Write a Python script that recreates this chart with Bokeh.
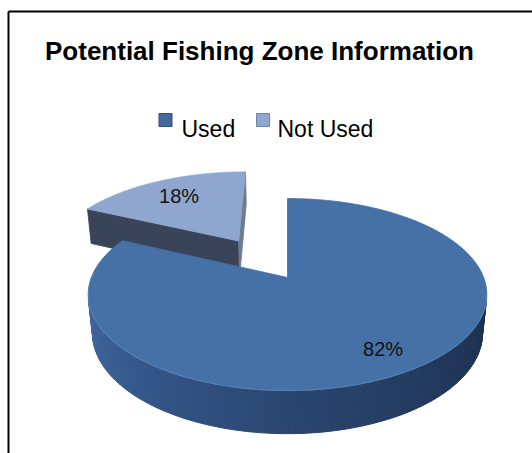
import numpy as np
from bokeh.plotting import figure
from bokeh.models import Range1d
from bokeh.core.properties import value
from bokeh.embed import file_html
from bokeh.resources import INLINE

# ---------------- data ----------------
title_text = "Potential Fishing Zone Information"
categories = ["Used", "Not Used"]
values = [82, 18]
explode = [0.0, 0.5]
label_radius = [0.8, 0.72]

# ---------------- styles ----------------
top_colors = ["#4571a6", "#8fa7cf"]
legend_colors = ["#44699e", "#90a8d0"]
legend_edges = ["#2d4d7c", "#6f87ae"]
FONT = "Liberation Sans"

W, Hpx = 532, 453

# perspective projection of a flat 3D disk (radius 1, thickness TH)
CX, CY = 287.0, 277.0
F = 975.0
DIST = 4.97
S = 0.474
C = float(np.sqrt(1 - S * S))
TH = 0.225
CAM = np.array([0.0, DIST * S, -DIST * C])


def proj(x, y, z):
    x = np.asarray(x, float); y = np.asarray(y, float); z = np.asarray(z, float)
    yc = C * y + S * z
    zc = -S * y + C * z + DIST
    return CX + F * x / zc, CY - F * yc / zc


def lerp_color(stops, t):
    t = min(max(t, 0.0), 1.0)
    n = len(stops) - 1
    k = min(int(t * n), n - 1)
    u = t * n - k
    a = stops[k]; b = stops[k + 1]
    ca = [int(a[i:i + 2], 16) for i in (1, 3, 5)]
    cb = [int(b[i:i + 2], 16) for i in (1, 3, 5)]
    cc = [round(ca[j] + (cb[j] - ca[j]) * u) for j in range(3)]
    return "#%02x%02x%02x" % tuple(cc)


side_stops = ["#4169a0", "#34578a", "#2a4670", "#22395d", "#1c2e4c"]

p = figure(width=W, height=Hpx, x_range=Range1d(0, W), y_range=Range1d(Hpx, 0),
           output_backend="svg", toolbar_location=None, x_axis_type=None,
           y_axis_type=None, min_border=0, outline_line_color=None,
           background_fill_color="white", border_fill_color="white")
p.grid.visible = False

# frame lines
p.line(x=[8, W], y=[11, 11], line_color="#000000", line_width=2)
p.line(x=[8, 8], y=[11, Hpx], line_color="#000000", line_width=2)

# slice angles (start at 12 o'clock, clockwise)
total = float(sum(values))
slices = []
start = 90.0
for i, v in enumerate(values):
    a0 = start
    a1 = start - 360.0 * v / total
    start = a1
    mid = np.radians((a0 + a1) / 2)
    ox, oz = explode[i] * np.cos(mid), explode[i] * np.sin(mid)
    slices.append(dict(i=i, a0=a0, a1=a1, mid=mid, ox=ox, oz=oz))

# draw farthest slices first
order = sorted(slices, key=lambda s: -s["oz"])
label_x, label_y, label_t = [], [], []
for s in order:
    i, ox, oz = s["i"], s["ox"], s["oz"]
    th = np.radians(np.linspace(s["a1"], s["a0"], 240))
    # curved outer wall: front-facing strips
    xs_list, ys_list, cols = [], [], []
    front = []
    for k in range(len(th) - 1):
        tm = 0.5 * (th[k] + th[k + 1])
        P = np.array([ox + np.cos(tm), 0.0, oz + np.sin(tm)])
        nvec = np.array([np.cos(tm), 0.0, np.sin(tm)])
        if np.dot(CAM - P, nvec) <= 0:
            continue
        front.append(k)
        tt = np.array([th[k], th[k + 1], th[k + 1], th[k]])
        yy = np.array([0, 0, -TH, -TH])
        X, Y = proj(ox + np.cos(tt), yy, oz + np.sin(tt))
        xs_list.append(list(X)); ys_list.append(list(Y))
        ang = np.degrees(tm) % 360
        cols.append(lerp_color(side_stops, (ang - 190) / 160))
    if xs_list:
        p.patches(xs=xs_list, ys=ys_list, fill_color=cols, line_color=cols, line_width=1)
    # radial walls
    for edge, sign, col in ((s["a0"], 1, "#394459"), (s["a1"], -1, "#6e7a90")):
        e = np.radians(edge)
        na = e + sign * np.pi / 2
        nvec = np.array([np.cos(na), 0.0, np.sin(na)])
        P = np.array([ox + 0.5 * np.cos(e), 0.0, oz + 0.5 * np.sin(e)])
        if np.dot(CAM - P, nvec) <= 1e-9:
            continue
        X, Y = proj([ox, ox + np.cos(e), ox + np.cos(e), ox],
                    [0, 0, -TH, -TH],
                    [oz, oz + np.sin(e), oz + np.sin(e), oz])
        p.patch(x=list(X), y=list(Y), fill_color=col, line_color=col, line_width=0.8)
    # top face
    X, Y = proj(np.concatenate([[ox], ox + np.cos(th)]),
                np.zeros(len(th) + 1),
                np.concatenate([[oz], oz + np.sin(th)]))
    p.patch(x=list(X), y=list(Y), fill_color=top_colors[i], line_color=top_colors[i], line_width=0.8)
    # subtle highlight along the front rim
    if front:
        tf = th[front[0]:front[-1] + 2]
        hx, hy = proj(ox + np.cos(tf), np.zeros(len(tf)), oz + np.sin(tf))
        p.line(x=list(hx), y=list(hy), line_color="#5a86bb", line_width=1.2, line_alpha=0.8)
    # label position
    r = label_radius[i]
    lx, ly = proj(ox + r * np.cos(s["mid"]), 0.0, oz + r * np.sin(s["mid"]))
    label_x.append(float(lx)); label_y.append(float(ly))
    label_t.append(f"{values[i]}%")

p.text(x=label_x, y=label_y, text=label_t, text_font=value(FONT),
       text_font_size=value("20px"), text_color="#111111",
       text_align="center", text_baseline="middle")

# title
p.text(x=[259], y=[50], text=[title_text], text_font=value(FONT),
       text_font_size=value("26px"), text_font_style="bold", text_color="#000000",
       text_align="center", text_baseline="alphabetic")

# legend
leg_sq_x = [165, 262.5]
leg_txt_x = [181, 277]
p.rect(x=leg_sq_x, y=[119.5, 119.5], width=13, height=13,
       fill_color=legend_colors, line_color=legend_edges, line_width=1)
p.text(x=leg_txt_x, y=[128, 128], text=categories, text_font=value(FONT),
       text_font_size=value("23px"), text_color="#000000",
       text_align="left", text_baseline="alphabetic")

open("out.html", "w").write(file_html(p, INLINE))
